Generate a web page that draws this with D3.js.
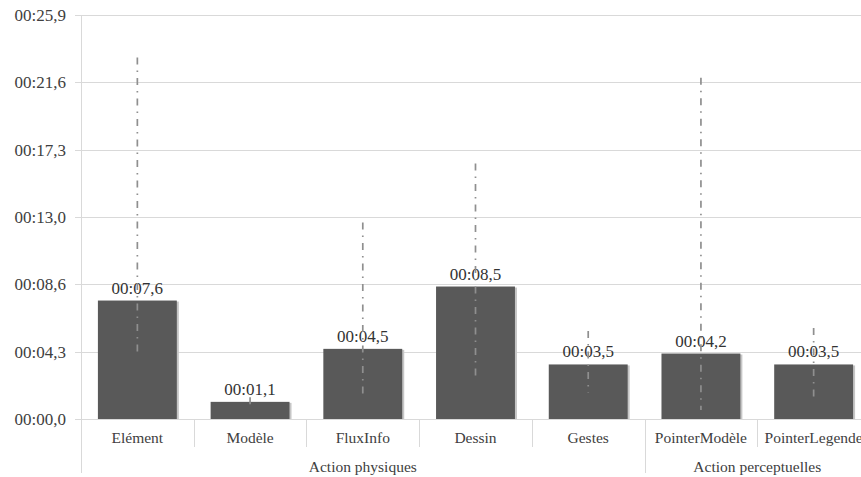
<!DOCTYPE html>
<html>
<head>
<meta charset="utf-8">
<script src="https://cdn.jsdelivr.net/npm/d3@7"></script>
<style>
  body { margin: 0; background: #fff; }
  .grid line { stroke: #d9d9d9; stroke-width: 1px; }
  .err { stroke: #8f8f8f; stroke-width: 1.7px; stroke-dasharray: 7 6 1.5 6; fill: none; }
</style>
</head>
<body>
<svg id="chart" width="861" height="477" font-family="'Liberation Serif', 'Times New Roman', serif"></svg>
<script>
  // durations in seconds
  const categories = ["Elément", "Modèle", "FluxInfo", "Dessin", "Gestes", "PointerModèle", "PointerLegende"];
  const means = [7.6, 1.1, 4.5, 8.5, 3.5, 4.2, 3.5];
  const errLow = [4.1, 0.77, 1.35, 2.7, 1.67, 0.58, 1.22];
  const errHigh = [23.2, 1.4, 12.6, 16.4, 5.65, 21.9, 5.84];
  const groupNames = ["Action physiques", "Action perceptuelles"];
  const groupSpans = [[0, 5], [5, 7]];
  const yTicks = [0, 4.32, 8.64, 12.96, 17.28, 21.6, 25.92];

  const svg = d3.select('#chart');
  const plotLeft = 81, plotRight = 870, plotTop = 15, plotBottom = 419;

  const x = d3.scaleBand().domain(categories).range([plotLeft, plotRight]).paddingInner(0.3).paddingOuter(0.15);
  const y = d3.scaleLinear().domain([0, 25.92]).range([plotBottom, plotTop]);

  const fmt = s => "00:" + d3.format("04.1f")(s).replace(".", ",");

  // gridlines + y labels
  const grid = svg.append('g').attr('class', 'grid');
  grid.selectAll('line').data(yTicks).join('line')
    .attr('x1', plotLeft - 6).attr('x2', 861)
    .attr('y1', d => Math.round(y(d)) + 0.5).attr('y2', d => Math.round(y(d)) + 0.5);
  svg.append('g').selectAll('text').data(yTicks).join('text')
    .attr('x', 66).attr('y', d => y(d)).attr('dy', '0.35em')
    .attr('text-anchor', 'end').attr('font-size', 17).attr('fill', '#404040')
    .text(fmt);

  // axis + category separators
  const step = x.step();
  const sep = svg.append('g').attr('stroke', '#d9d9d9').attr('stroke-width', 1);
  sep.append('line').attr('x1', plotLeft + 0.5).attr('x2', plotLeft + 0.5).attr('y1', plotTop).attr('y2', 473);
  d3.range(1, categories.length).forEach(i => {
    const isGroup = groupSpans.some(g => g[0] === i);
    const xx = Math.round(plotLeft + i * step) + 0.5;
    sep.append('line').attr('x1', xx).attr('x2', xx).attr('y1', plotBottom).attr('y2', isGroup ? 473 : 447);
  });

  // bars with a soft right shadow
  const bars = svg.append('g');
  bars.selectAll('rect.shadow').data(means).join('rect')
    .attr('class', 'shadow')
    .attr('x', (d, i) => x(categories[i]) + 2).attr('width', x.bandwidth())
    .attr('y', d => y(d) + 1).attr('height', d => plotBottom - y(d) - 1)
    .attr('fill', '#c6c6c6');
  bars.selectAll('rect.bar').data(means).join('rect')
    .attr('class', 'bar')
    .attr('x', (d, i) => x(categories[i])).attr('width', x.bandwidth())
    .attr('y', d => y(d)).attr('height', d => plotBottom - y(d))
    .attr('fill', '#595959');

  // value labels
  svg.append('g').selectAll('text').data(means).join('text')
    .attr('x', (d, i) => x(categories[i]) + x.bandwidth() / 2)
    .attr('y', d => y(d) - 7)
    .attr('text-anchor', 'middle').attr('font-size', 17).attr('fill', '#333')
    .text(fmt);

  // error bars (dash-dot)
  svg.append('g').selectAll('line').data(categories).join('line')
    .attr('class', 'err')
    .attr('x1', d => x(d) + x.bandwidth() / 2).attr('x2', d => x(d) + x.bandwidth() / 2)
    .attr('y1', (d, i) => y(errHigh[i])).attr('y2', (d, i) => y(errLow[i]));

  // category labels
  svg.append('g').selectAll('text').data(categories).join('text')
    .attr('x', d => x(d) + x.bandwidth() / 2).attr('y', 438).attr('dy', '0.35em')
    .attr('text-anchor', 'middle').attr('font-size', 15.5).attr('fill', '#404040')
    .text(d => d);

  // group labels
  svg.append('g').selectAll('text').data(groupNames).join('text')
    .attr('x', (d, i) => plotLeft + (groupSpans[i][0] + groupSpans[i][1]) / 2 * step)
    .attr('y', 467).attr('dy', '0.35em')
    .attr('text-anchor', 'middle').attr('font-size', 15.5).attr('fill', '#404040')
    .text(d => d);
</script>
</body>
</html>
